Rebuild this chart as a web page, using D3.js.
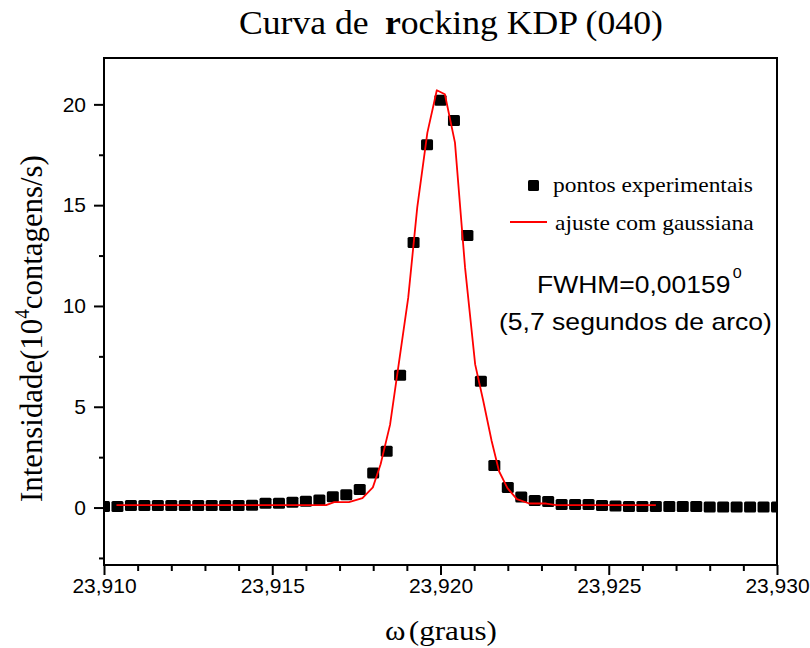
<!DOCTYPE html>
<html>
<head>
<meta charset="utf-8">
<script src="https://cdn.jsdelivr.net/npm/d3@7"></script>
<style>
  body { margin: 0; background: #fff; }
  svg { display: block; }
</style>
</head>
<body>
<div id="chart"></div>
<script>
// measured points (omega in degrees, intensity in 10^4 counts/s)
const omegaPts = [
  23.9100, 23.9104, 23.9108, 23.9112, 23.9116, 23.9120, 23.9124, 23.9128, 23.9132, 23.9136,
  23.9140, 23.9144, 23.9148, 23.9152, 23.9156, 23.9160, 23.9164, 23.9168, 23.9172, 23.9176,
  23.9180, 23.9184, 23.9188, 23.9192, 23.9196, 23.9200, 23.9204, 23.9208, 23.9212, 23.9216,
  23.9220, 23.9224, 23.9228, 23.9232, 23.9236, 23.9240, 23.9244, 23.9248, 23.9252, 23.9256,
  23.9260, 23.9264, 23.9268, 23.9272, 23.9276, 23.9280, 23.9284, 23.9288, 23.9292, 23.9296,
  23.9300
];
const intensPts = [
  0.05, 0.05, 0.10, 0.10, 0.10, 0.10, 0.10, 0.10, 0.10, 0.10,
  0.10, 0.12, 0.21, 0.21, 0.26, 0.31, 0.38, 0.54, 0.64, 0.89,
  1.71, 2.79, 6.56, 13.15, 18.0, 20.2, 19.2, 13.5, 6.26, 2.08,
  1.00, 0.52, 0.35, 0.30, 0.15, 0.15, 0.15, 0.10, 0.08, 0.05,
  0.05, 0.05, 0.05, 0.05, 0.05, 0.03, 0.03, 0.03, 0.03, 0.03,
  0.03
];

// gaussian fit
const omegaFit = [
  23.91037, 23.91660, 23.91684, 23.91728, 23.91768, 23.91799, 23.91822, 23.91850,
  23.91904, 23.91931, 23.91961, 23.91989, 23.92013, 23.92043, 23.92073, 23.92103,
  23.92127, 23.92152, 23.92174, 23.92199, 23.92227, 23.92264, 23.92314, 23.92344,
  23.92640
];
const intensFit = [
  0.12, 0.12, 0.27, 0.27, 0.47, 1.00, 2.15, 4.10,
  10.4, 14.9, 18.6, 20.7, 20.5, 18.1, 11.9, 7.1,
  5.3, 3.3, 1.8, 0.96, 0.42, 0.20, 0.20, 0.12,
  0.12
];

const xMajorTicks = [23.910, 23.915, 23.920, 23.925, 23.930];
const xMinorTicks = [23.911, 23.912, 23.913, 23.914, 23.916, 23.917, 23.918, 23.919,
  23.921, 23.922, 23.923, 23.924, 23.926, 23.927, 23.928, 23.929];
const yMajorTicks = [0, 5, 10, 15, 20];
const yMinorTicks = [-2.5, 2.5, 7.5, 12.5, 17.5];

const W = 810, H = 648;
const plot = { left: 104, right: 777, top: 58, bottom: 565 };
const serif = "'Liberation Serif', 'Times New Roman', serif";
const sans = "'Liberation Sans', Arial, sans-serif";

const svg = d3.select("#chart").append("svg")
  .attr("width", W).attr("height", H);
svg.append("rect").attr("width", W).attr("height", H).attr("fill", "#fff");

const x = d3.scaleLinear().domain([23.910, 23.930]).range([plot.left, plot.right]);
const y = d3.scaleLinear().domain([-2.85, 22.3]).range([plot.bottom, plot.top]);

const ptBr = d3.formatLocale({ decimal: ",", thousands: ".", grouping: [3], currency: ["", ""] });
const fmtX = ptBr.format(".3f");

// stretch a text group horizontally so that it spans w pixels
function fitText(g, tx, ty, w, rot) {
  const bw = g.node().getBBox().width;
  g.attr("transform", `translate(${tx},${ty})${rot ? " rotate(" + rot + ")" : ""} scale(${w / bw},1)`);
}

svg.append("defs").append("clipPath").attr("id", "clip")
  .append("rect")
  .attr("x", plot.left).attr("y", plot.top)
  .attr("width", plot.right - plot.left).attr("height", plot.bottom - plot.top);

// axes
const xAxis = svg.append("g").attr("transform", `translate(0,${plot.bottom})`)
  .call(d3.axisBottom(x).tickValues(xMajorTicks).tickSize(10).tickPadding(3).tickFormat(fmtX));
const xMinor = svg.append("g").attr("transform", `translate(0,${plot.bottom})`)
  .call(d3.axisBottom(x).tickValues(xMinorTicks).tickSize(6).tickFormat(""));
const yAxis = svg.append("g").attr("transform", `translate(${plot.left},0)`)
  .call(d3.axisLeft(y).tickValues(yMajorTicks).tickSize(10).tickPadding(8));
const yMinor = svg.append("g").attr("transform", `translate(${plot.left},0)`)
  .call(d3.axisLeft(y).tickValues(yMinorTicks).tickSize(5).tickFormat(""));

[xAxis, xMinor, yAxis, yMinor].forEach(a => {
  a.select(".domain").remove();
  a.selectAll(".tick line").attr("stroke", "#000").attr("stroke-width", 2);
  a.selectAll(".tick text").attr("fill", "#000")
    .style("font-family", sans).style("font-size", "21px");
});

// frame
svg.append("rect")
  .attr("x", plot.left).attr("y", plot.top)
  .attr("width", plot.right - plot.left).attr("height", plot.bottom - plot.top)
  .attr("fill", "none").attr("stroke", "#000").attr("stroke-width", 2);

const inner = svg.append("g").attr("clip-path", "url(#clip)");

const pts = omegaPts.map((w, i) => ({ w, v: intensPts[i] }));
inner.selectAll(".pt").data(pts).join("rect")
  .attr("class", "pt")
  .attr("x", d => x(d.w) - 6).attr("y", d => y(d.v) - 5.5)
  .attr("width", 12).attr("height", 11).attr("rx", 1.5)
  .attr("fill", "#000");

const fit = omegaFit.map((w, i) => ({ w, v: intensFit[i] }));
inner.append("path").datum(fit)
  .attr("fill", "none").attr("stroke", "#ff0000").attr("stroke-width", 1.8)
  .attr("stroke-linejoin", "round")
  .attr("d", d3.line().x(d => x(d.w)).y(d => y(d.v)));

// title
const title = svg.append("g");
const tt = title.append("text").attr("x", 0).attr("y", 0)
  .style("font-family", serif).style("font-size", "34px").attr("fill", "#000");
tt.append("tspan").text("Curva de ");
tt.append("tspan").attr("dx", 7).style("font-weight", "bold").text("r");
tt.append("tspan").text("ocking KDP (040)");
fitText(title, 239, 34, 424);

// y label
const yl = svg.append("g");
const ylt = yl.append("text").attr("x", 0).attr("y", 0)
  .style("font-family", serif).style("font-size", "32px").attr("fill", "#000");
ylt.append("tspan").text("Intensidade(10");
ylt.append("tspan").attr("dy", -13).style("font-size", "20px").text("4");
ylt.append("tspan").attr("dy", 13).text("contagens/s)");
fitText(yl, 42, 502, 347, -90);

// x label
const xl = svg.append("g");
const xlt = xl.append("text").attr("x", 0).attr("y", 0)
  .style("font-family", serif).style("font-size", "28px").attr("fill", "#000");
xlt.append("tspan").text("ω");
xlt.append("tspan").attr("dx", 3).text("(graus)");
fitText(xl, 385, 640, 112);

// legend
svg.append("rect").attr("x", 528).attr("y", 180).attr("width", 11).attr("height", 11)
  .attr("rx", 1.5).attr("fill", "#000");
const l1 = svg.append("g");
l1.append("text").style("font-family", serif).style("font-size", "22px").text("pontos experimentais");
fitText(l1, 553, 192, 200);

svg.append("line").attr("x1", 510).attr("x2", 547).attr("y1", 222).attr("y2", 222)
  .attr("stroke", "#ff0000").attr("stroke-width", 1.8);
const l2 = svg.append("g");
l2.append("text").style("font-family", serif).style("font-size", "22px").text("ajuste com gaussiana");
fitText(l2, 555, 230, 199);

// FWHM annotation
const f1 = svg.append("g");
const f1t = f1.append("text").style("font-family", sans).style("font-size", "23px");
f1t.append("tspan").text("FWHM=0,00159");
f1t.append("tspan").attr("dx", 2).attr("dy", -15).style("font-size", "14px").text("0");
fitText(f1, 537, 293, 205);

const f2 = svg.append("g");
f2.append("text").style("font-family", sans).style("font-size", "23px").text("(5,7 segundos de arco)");
fitText(f2, 499, 330, 273);
</script>
</body>
</html>
